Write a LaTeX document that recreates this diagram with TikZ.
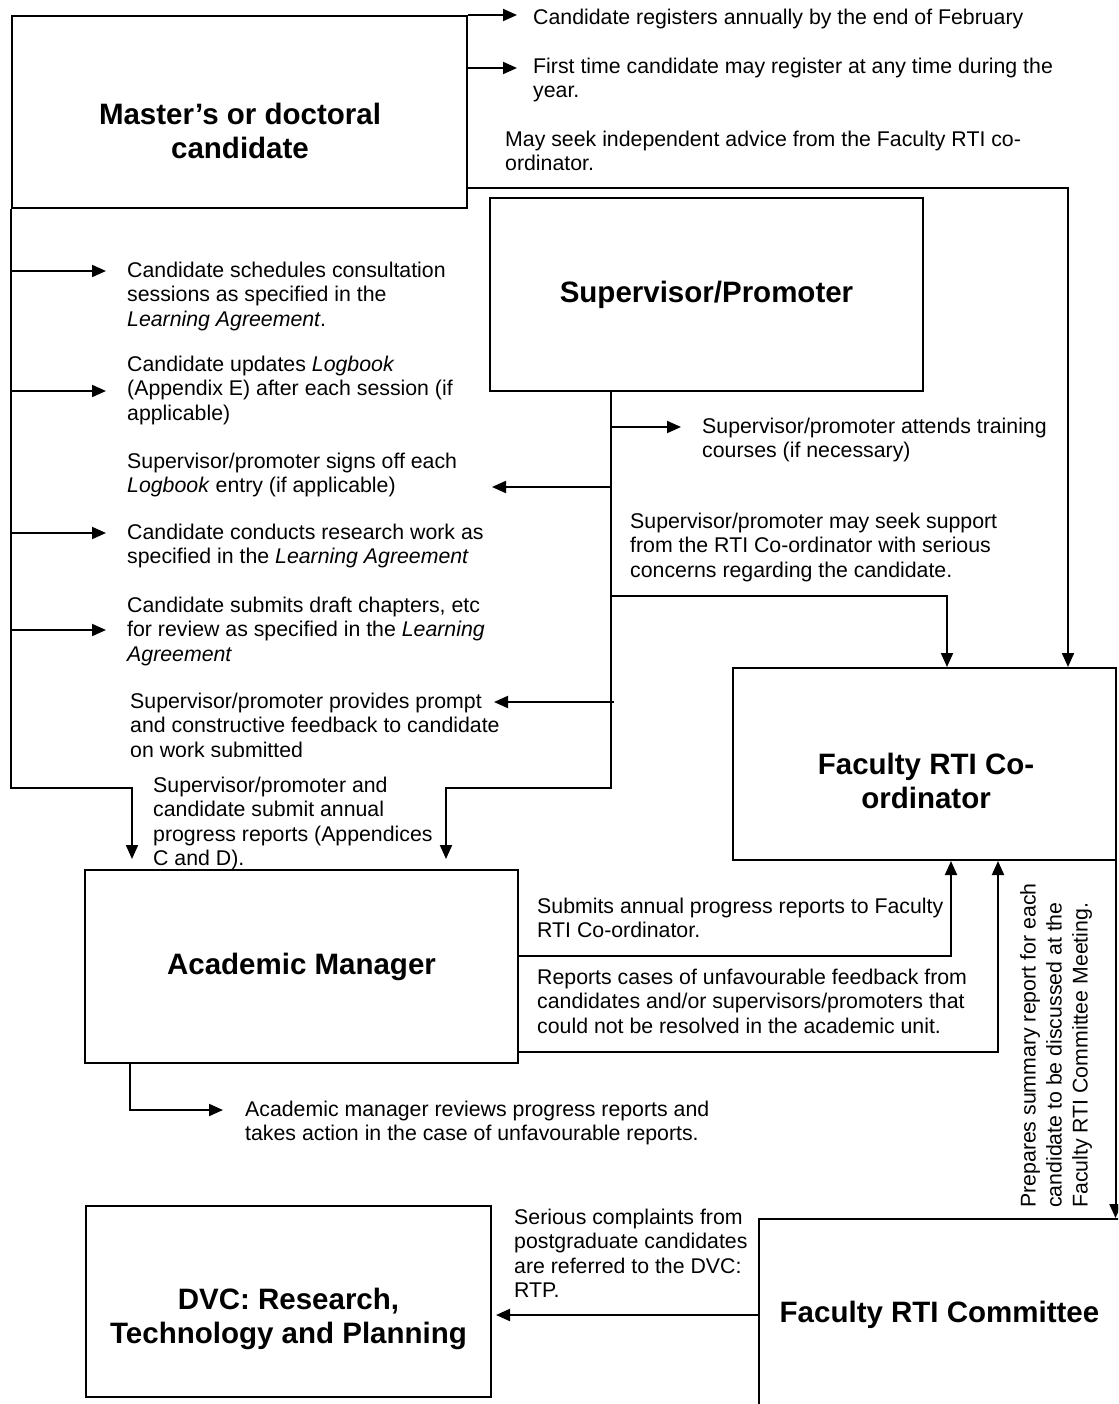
\documentclass[tikz,border=0pt]{standalone}
\usepackage{fontspec}
\setmainfont{Liberation Sans}
\usetikzlibrary{arrows.meta}
\newcommand{\bodyfont}{\fontsize{21.3}{24.2}\selectfont}
\newcommand{\titlefont}{\fontsize{29.5}{34}\selectfont\bfseries}
\newcommand{\sidefont}{\fontsize{21.3}{26}\selectfont}

\begin{document}
\begin{tikzpicture}[x=1pt,y=-1pt,
  box/.style={draw, line width=2pt, inner sep=0pt, rectangle},
  ttl/.style={font=\titlefont, align=center, inner sep=0pt},
  note/.style={font=\bodyfont, align=left, inner sep=0pt, anchor=north west},
  arr/.style={-{Triangle[length=14pt,width=12pt]}, line width=2pt},
  link/.style={line width=2pt}]

\fill[white] (0,0) rectangle (1118,1404);
\useasboundingbox (0,0) rectangle (1118,1404);
\clip (0,0) rectangle (1118,1404);

% ---- boxes ----
\node[box, minimum width=455pt, minimum height=192pt] (cand) at (239.5,112) {};
\node[ttl] (cand-t) at (240,131) {Master’s or doctoral\\candidate};

\node[box, minimum width=433pt, minimum height=193pt, font=\titlefont] (sup) at (706.5,294.5) {Supervisor/Promoter};

\node[box, minimum width=383pt, minimum height=192pt] (fac) at (924.5,764) {};
\node[ttl] (fac-t) at (926,781) {Faculty RTI Co-\\ordinator};

\node[box, minimum width=433pt, minimum height=193pt, font=\titlefont] (am) at (301.5,966.5) {Academic Manager};

\node[box, minimum width=405pt, minimum height=191pt] (dvc) at (288.5,1301.5) {};
\node[ttl] (dvc-t) at (288.5,1318.5) {DVC: Research,\\Technology and Planning};

\node[box, minimum width=361pt, minimum height=192pt, font=\titlefont] (com) at (939.5,1315) {Faculty RTI Committee};

% ---- levels and free arrow ends ----
\coordinate (lvReg2) at (0,68);
\coordinate (lvTop) at (0,188);
\coordinate (lvBot) at (0,788);
\coordinate (l1) at (106,271);
\coordinate (l2) at (106,391);
\coordinate (l3) at (106,533);
\coordinate (l4) at (106,630);
\coordinate (tipTrain) at (681,427);
\coordinate (tipSign) at (492,487);
\coordinate (lvSeek) at (0,596);
\coordinate (tipFeed) at (494,702);
\coordinate (jSup) at (446,788);
\coordinate (lvSub) at (0,956);
\coordinate (lvRep) at (0,1052);
\coordinate (tipRev) at (223,1110);
\coordinate (sTop) at ([xshift=-95.5pt]sup.south);

% ---- notes ----
\node[note, anchor=west] (n-reg) at (533,19) {Candidate registers annually by the end of February};
\node[note] (n-first) at (533,58) {First time candidate may register at any time during the\\year.};
\node[note] (n-seek) at (505,131) {May seek independent advice from the Faculty RTI co-\\ordinator.};

\node[note] (n-sched) at (127,262) {Candidate schedules consultation\\sessions as specified in the\\\textit{Learning Agreement}.};
\node[note] (n-log) at (127,356) {Candidate updates \textit{Logbook}\\(Appendix E) after each session (if\\applicable)};
\node[note] (n-sign) at (127,453) {Supervisor/promoter signs off each\\\textit{Logbook} entry (if applicable)};
\node[note] (n-res) at (127,524) {Candidate conducts research work as\\specified in the \textit{Learning Agreement}};
\node[note] (n-draft) at (127,597) {Candidate submits draft chapters, etc\\for review as specified in the \textit{Learning}\\\textit{Agreement}};
\begin{scope}
  \clip (100,680) rectangle (600,756);
  \node[note] (n-feed) at (130,693) {Supervisor/promoter provides prompt\\and constructive feedback to candidate\\on work submitted};
\end{scope}
\node[note] (n-annual) at (153,777) {Supervisor/promoter and\\candidate submit annual\\progress reports (Appendices\\C and D).};

\node[note] (n-train) at (702,418) {Supervisor/promoter attends training\\courses (if necessary)};
\node[note] (n-support) at (630,513) {Supervisor/promoter may seek support\\from the RTI Co-ordinator with serious\\concerns regarding the candidate.};

\node[note] (n-subm) at (537,898) {Submits annual progress reports to Faculty\\RTI Co-ordinator.};
\node[note] (n-cases) at (537,969) {Reports cases of unfavourable feedback from\\candidates and/or supervisors/promoters that\\could not be resolved in the academic unit.};
\node[note] (n-review) at (245,1101) {Academic manager reviews progress reports and\\takes action in the case of unfavourable reports.};
\node[note] (n-compl) at (514,1209) {Serious complaints from\\postgraduate candidates\\are referred to the DVC:\\RTP.};
\node[note, font=\sidefont, rotate=90] (n-prep) at (1020,1208) {Prepares summary report for each\\candidate to be discussed at the\\Faculty RTI Committee Meeting.};

% ---- connectors from the candidate ----
\draw[arr] (cand.north east) -- ([xshift=-16pt]cand.north east -| n-reg.west);
\draw[arr] (cand.east |- lvReg2) -- ([xshift=-16pt]lvReg2 -| n-first.west);
\draw[arr] (cand.east |- lvTop) -| ([xshift=-49pt]fac.north east);
\draw[arr, shorten >=10pt] (cand.south west) |- (lvBot -| am.north west) -| ([xshift=48pt]am.north west);
\draw[arr] (cand.west |- l1) -- (l1);
\draw[arr] (cand.west |- l2) -- (l2);
\draw[arr] (cand.west |- l3) -- (l3);
\draw[arr] (cand.west |- l4) -- (l4);

% ---- connectors from the supervisor ----
\draw[arr, shorten >=10pt] (sTop) |- (jSup) -- (jSup |- am.north);
\draw[arr] (sTop |- tipTrain) -- (tipTrain);
\draw[arr] (sTop |- tipSign) -- (tipSign);
\draw[arr] (sTop |- lvSeek) -| ([xshift=22.5pt]fac.north);
\draw[arr] ([xshift=3pt]sTop |- tipFeed) -- (tipFeed);

% ---- connectors from the academic manager ----
\draw[arr] (am.east |- lvSub) -| ([xshift=26.5pt]fac.south);
\draw[arr] (am.east |- lvRep) -| ([xshift=73.5pt]fac.south);
\draw[arr] ([xshift=-171.5pt]am.south) |- (tipRev);

% ---- committee chain ----
\draw[arr] ([xshift=-1.5pt]fac.south east) -- ([xshift=-1.5pt]fac.south east |- com.north);
\draw[arr, shorten >=4pt] (com.west) -- (dvc.east |- com.west);

\end{tikzpicture}
\end{document}
